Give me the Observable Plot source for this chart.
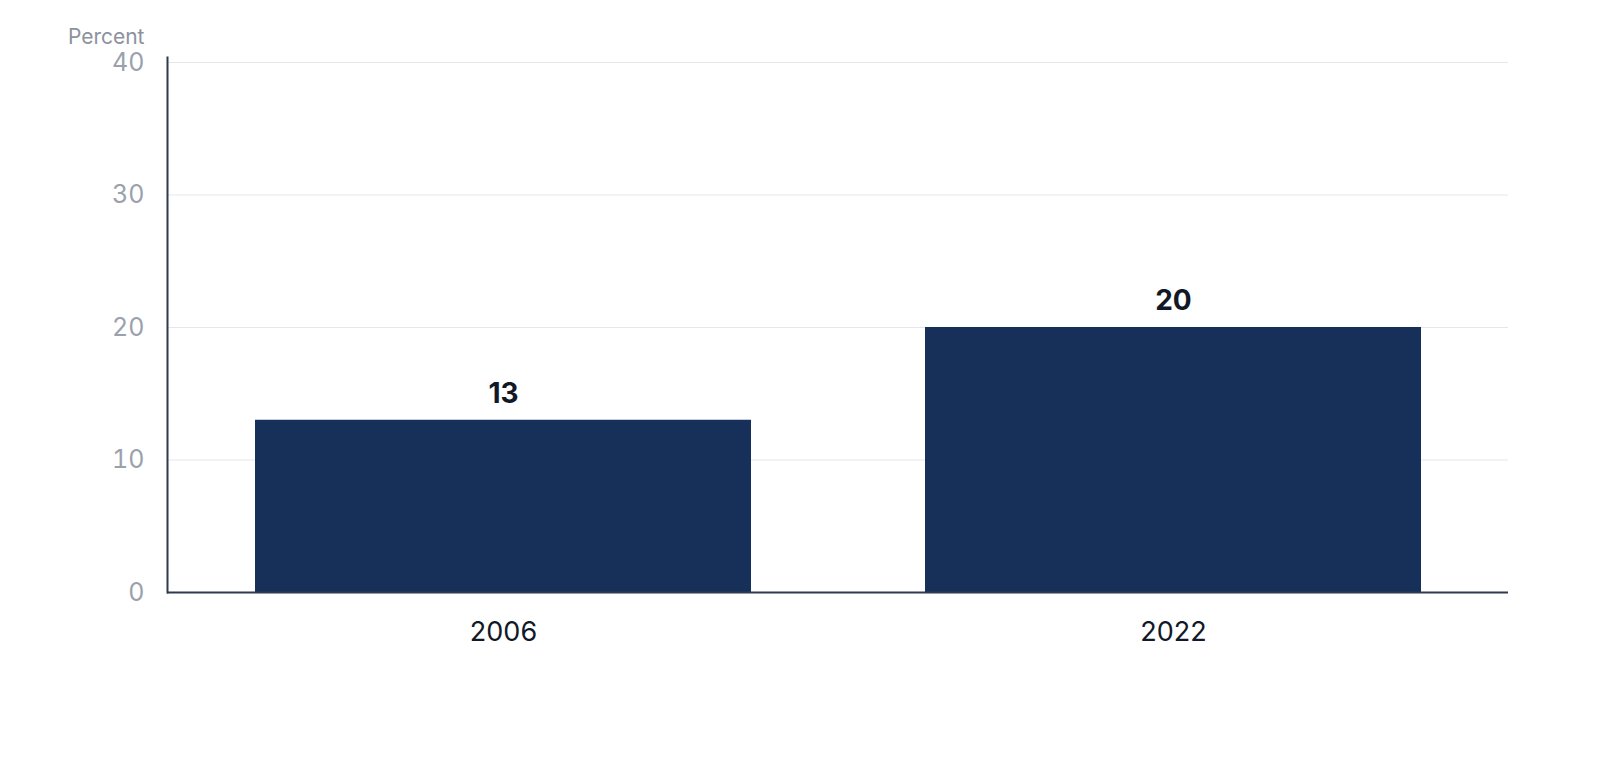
<!DOCTYPE html>
<html><head><meta charset="utf-8">
<script src="https://cdn.jsdelivr.net/npm/d3@7"></script>
<script src="https://cdn.jsdelivr.net/npm/@observablehq/plot@0.6"></script>
<style>
html,body{margin:0;padding:0;background:#fff;overflow:hidden;}
#chart svg{display:block;font-family:Inter, "Noto Sans", sans-serif;}
</style></head>
<body><div id="chart"></div>
<script>
const years = ["2006", "2022"];
const values = [13, 20];
const yTicks = [0, 10, 20, 30, 40];
const yLabel = "Percent";

const data = years.map((y, i) => ({year: y, value: values[i]}));

const chart = Plot.plot({
  width: 1600,
  height: 760,
  marginLeft: 167,
  marginRight: 92,
  marginTop: 62,
  marginBottom: 168,
  style: {fontFamily: "Inter, 'Noto Sans', sans-serif", background: "#fff", maxWidth: "none"},
  x: {domain: years, paddingInner: 0.26, paddingOuter: 0.13, label: null},
  y: {domain: [0, 40], ticks: yTicks, label: null},
  marks: [
    Plot.gridY(yTicks, {stroke: "#e5e7eb", strokeOpacity: 1, strokeWidth: 1}),
    Plot.barY(data, {x: "year", y: "value", fill: "#17305a"}),
    Plot.frame({anchor: "left", stroke: "#2f3a4f", strokeWidth: 2, insetTop: -5}),
    Plot.ruleY([0], {stroke: "#2f3a4f", strokeWidth: 2}),
    Plot.axisY(yTicks, {tickSize: 0, tickPadding: 23, fontSize: 25, fill: "#9aa1ad", label: null}),
    Plot.axisX({tickSize: 0, tickPadding: 29, fontSize: 27, fill: "#111827", label: null}),
    Plot.text([yLabel], {frameAnchor: "top-left", dx: -23, dy: -33, textAnchor: "end", fontSize: 21, fill: "#8b929e"}),
    Plot.text(data, {x: "year", y: "value", text: d => String(d.value), dy: -26, fontSize: 28, fontWeight: "bold", fill: "#111827"})
  ]
});
document.getElementById("chart").appendChild(chart);
</script></body></html>
